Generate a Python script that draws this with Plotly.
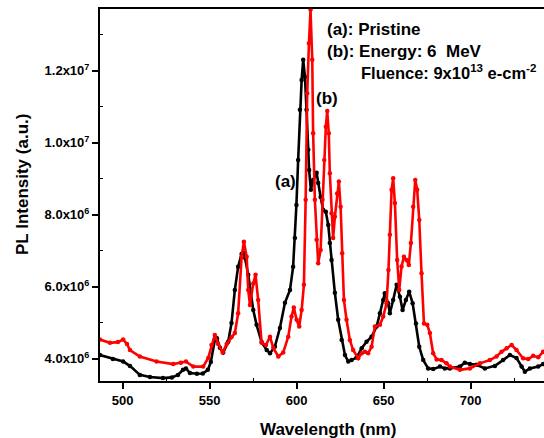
import plotly.graph_objects as go

# Wavelength (nm) and PL intensity (units of 1e6 a.u.)
wl_a = [487.0, 494.4, 500.3, 504.2, 509.9, 515.7, 523.2, 528.3, 531.8, 534.7, 536.4, 538.7, 542.7, 546.1,
        549.0, 550.7, 553.0, 554.2, 555.9, 557.8, 560.7, 562.6, 564.5, 566.4, 568.4, 569.3, 570.3, 572.2,
        573.7, 575.1, 577.0, 579.9, 582.8, 584.7, 587.5, 590.4, 593.3, 596.2, 598.0, 599.0, 599.9, 600.9,
        601.9, 602.9, 603.8, 604.8, 605.7, 606.7, 607.2, 608.2, 609.5, 611.5, 612.4, 613.8, 615.3, 616.8,
        618.2, 619.1, 620.1, 622.0, 623.9, 625.9, 627.8, 629.7, 631.6, 634.5, 637.4, 640.2, 643.1, 646.0,
        647.9, 649.8, 650.7, 652.6, 653.6, 655.5, 657.5, 659.4, 660.9, 662.8, 664.7, 666.7, 668.6, 670.5,
        672.8, 675.6, 678.5, 682.4, 685.2, 688.1, 693.9, 696.7, 699.6, 703.4, 708.2, 714.0, 718.7, 722.6,
        726.4, 729.3, 731.2, 734.1, 738.9, 741.7]
int_a = [4.10, 3.99, 3.92, 3.80, 3.55, 3.49, 3.46, 3.48, 3.55, 3.69, 3.73, 3.60, 3.58, 3.59,
         3.69, 3.91, 4.52, 4.57, 4.30, 4.17, 4.47, 4.99, 5.91, 6.55, 6.91, 6.94, 6.80, 6.33,
         5.85, 5.35, 4.94, 4.46, 4.24, 4.15, 4.33, 4.85, 5.55, 5.91, 6.55, 7.35, 8.27, 9.52,
         10.91, 11.74, 12.30, 11.83, 10.91, 9.80, 9.24, 8.69, 8.96, 9.16, 8.88, 8.49, 8.13, 8.08,
         7.71, 7.21, 6.74, 5.83, 5.08, 4.52, 4.10, 3.92, 3.96, 4.03, 4.29, 4.47, 4.61, 4.89,
         5.26, 5.63, 5.82, 5.54, 5.26, 5.63, 6.05, 5.72, 5.35, 5.63, 5.86, 5.54, 4.98, 4.33,
         3.96, 3.73, 3.71, 3.78, 3.73, 3.73, 3.78, 3.89, 3.85, 3.83, 3.73, 3.80, 3.96, 4.10,
         4.02, 3.78, 3.64, 3.73, 3.78, 3.85]

wl_b = [487.0, 492.7, 497.3, 500.3, 502.5, 504.2, 509.9, 519.5, 529.1, 533.5, 536.4, 540.6, 546.3, 549.2,
        551.1, 553.0, 554.9, 557.5, 559.8, 562.6, 564.5, 566.4, 568.4, 569.7, 571.3, 572.2, 573.2, 575.1,
        576.4, 577.9, 579.9, 582.4, 584.7, 586.6, 589.5, 592.3, 595.2, 597.1, 598.4, 600.0, 601.5, 602.9,
        604.2, 605.2, 606.1, 607.1, 608.0, 609.0, 609.5, 610.5, 611.5, 612.4, 613.8, 614.9, 615.9, 616.8,
        617.6, 618.5, 619.1, 620.1, 621.0, 622.0, 623.3, 624.3, 625.3, 626.2, 627.2, 628.7, 630.6, 632.5,
        635.4, 637.4, 639.3, 641.1, 643.1, 645.0, 647.9, 649.8, 651.7, 652.8, 653.6, 654.6, 655.5, 656.5,
        657.8, 659.0, 660.3, 661.7, 663.2, 664.5, 665.7, 667.0, 668.2, 669.3, 670.5, 671.8, 673.2, 675.1,
        676.6, 678.5, 680.5, 683.3, 686.2, 688.1, 693.9, 699.6, 705.4, 711.1, 714.9, 717.8, 720.7, 723.6,
        726.4, 730.2, 733.1, 736.0, 738.9, 741.7]
int_b = [4.53, 4.44, 4.46, 4.53, 4.41, 4.24, 4.06, 3.92, 3.85, 3.89, 3.92, 3.78, 3.78, 4.02,
         4.38, 4.66, 4.41, 4.17, 4.41, 4.60, 4.71, 5.26, 6.83, 7.25, 6.83, 5.91, 5.49, 6.09,
         6.33, 5.63, 4.44, 4.38, 4.61, 4.30, 4.06, 4.17, 4.61, 5.17, 5.42, 5.08, 4.89, 5.35,
         6.05, 8.41, 11.37, 12.76, 13.69, 12.30, 10.26, 8.41, 7.30, 6.65, 7.02, 8.41, 9.52, 10.44,
         10.88, 10.26, 9.15, 8.04, 7.35, 7.94, 8.59, 8.92, 8.22, 6.93, 5.63, 5.08, 4.52, 4.24,
         4.01, 4.15, 4.19, 4.15, 4.33, 4.89, 4.94, 5.17, 5.54, 6.46, 7.44, 8.69, 9.01, 8.32,
         6.74, 5.91, 6.56, 6.83, 6.74, 6.60, 7.21, 8.22, 8.96, 8.69, 7.85, 6.37, 4.98, 4.94,
         4.71, 4.15, 3.98, 3.96, 3.87, 3.78, 3.69, 3.73, 3.87, 3.96, 4.06, 4.19, 4.29, 4.38,
         4.24, 4.01, 3.99, 4.08, 4.04, 4.19]

y_tick_vals = [4e6, 6e6, 8e6, 1.0e7, 1.2e7]
y_tick_text = ["4.0x10<sup>6</sup>", "6.0x10<sup>6</sup>", "8.0x10<sup>6</sup>",
               "1.0x10<sup>7</sup>", "1.2x10<sup>7</sup>"]
x_tick_vals = [500, 550, 600, 650, 700]

SCALE = 1e6
FONT = "Liberation Sans"

fig = go.Figure()
fig.add_trace(go.Scatter(
    x=wl_a, y=[v * SCALE for v in int_a], mode="lines+markers",
    line=dict(color="#000000", width=2.6),
    marker=dict(color="#000000", size=4.5),
    showlegend=False))
fig.add_trace(go.Scatter(
    x=wl_b, y=[v * SCALE for v in int_b], mode="lines+markers",
    line=dict(color="#ff0000", width=2.6),
    marker=dict(color="#ff0000", size=4.5),
    showlegend=False))

fig.update_layout(
    width=544, height=438,
    margin=dict(l=100, r=0, t=9, b=57),
    paper_bgcolor="white", plot_bgcolor="white",
    font=dict(family=FONT, color="black"),
)
fig.update_xaxes(
    range=[487.0, 742.2],
    tickvals=x_tick_vals, ticktext=[str(v) for v in x_tick_vals],
    showgrid=False, zeroline=False,
    showline=True, linecolor="black", linewidth=2, mirror=True,
    ticks="outside", ticklen=6, tickwidth=1.5, tickcolor="black",
    tickfont=dict(family=FONT, size=13, color="black", weight="bold"),
    minor=dict(tickvals=[525, 575, 625, 675, 725], ticks="inside", ticklen=3,
               tickwidth=1.2, tickcolor="black"),
)
fig.update_yaxes(
    range=[3.38e6, 13.71e6],
    tickvals=y_tick_vals, ticktext=y_tick_text,
    showgrid=False, zeroline=False,
    showline=True, linecolor="black", linewidth=2, mirror=False,
    ticks="outside", ticklen=6, tickwidth=1.5, tickcolor="black",
    tickfont=dict(family=FONT, size=13, color="black", weight="bold"),
    minor=dict(tickvals=[5e6, 7e6, 9e6, 1.1e7, 1.3e7], ticks="inside", ticklen=3,
               tickwidth=1.2, tickcolor="black"),
)

title_font = dict(family=FONT, size=17, color="black", weight="bold")
fig.add_annotation(text="Wavelength (nm)", xref="paper", yref="paper",
                   x=0.5135, y=-0.1317, xanchor="center", yanchor="middle",
                   showarrow=False, font=title_font)
fig.add_annotation(text="PL Intensity (a.u.)", xref="paper", yref="paper",
                   x=-0.1734, y=0.527, xanchor="center", yanchor="middle",
                   textangle=-90, showarrow=False, font=title_font)

label_font = dict(family=FONT, size=17, color="black", weight="bold")
fig.add_annotation(text="(a)", x=593.6, y=8.92e6, showarrow=False, font=label_font,
                   xanchor="center", yanchor="middle")
fig.add_annotation(text="(b)", x=617.4, y=11.23e6, showarrow=False, font=label_font,
                   xanchor="center", yanchor="middle")
fig.add_annotation(text="(a): Pristine", xref="paper", yref="paper",
                   x=(325 - 100) / 444, y=(381 - 29.3) / 372, xanchor="left", yanchor="middle",
                   showarrow=False, font=label_font)
fig.add_annotation(text="(b): Energy: 6\u00a0 MeV", xref="paper", yref="paper",
                   x=(325 - 100) / 444, y=(381 - 51.2) / 372, xanchor="left", yanchor="middle",
                   showarrow=False, font=label_font)
fig.add_annotation(text="Fluence: 9x10<sup>13</sup> e-cm<sup>-2</sup>", xref="paper", yref="paper",
                   x=(359 - 100) / 444, y=(381 - 72) / 372, xanchor="left", yanchor="middle",
                   showarrow=False, font=dict(family=FONT, size=16.5, color="black", weight="bold"))

fig.write_html(
    "out.html",
    config={"displayModeBar": False},
    post_script="document.body.style.margin='0px';document.body.style.overflow='hidden';",
)
